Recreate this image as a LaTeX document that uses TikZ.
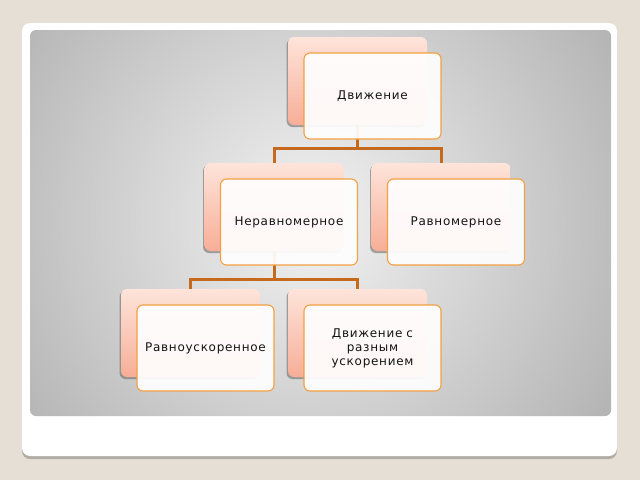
\documentclass[tikz,border=0pt]{standalone}
\usepackage{fontspec}
\usepackage{tikz}
\usetikzlibrary{positioning, shadows}

\newfontfamily\labfont[LetterSpace=6]{DejaVu Sans}

\definecolor{bgbeige}{HTML}{E5DFD5}
\definecolor{slideshadow}{HTML}{B1ADA5}
\definecolor{panelin}{HTML}{F2F2F2}
\definecolor{panelout}{HTML}{A0A0A0}
\definecolor{salmtop}{HTML}{FEE4DA}
\definecolor{salmbot}{HTML}{F7AE97}
\definecolor{boxedge}{HTML}{F2A042}
\definecolor{linkcol}{HTML}{C5691C}
\definecolor{labcol}{HTML}{141414}

\tikzset{
  backbox/.style={rounded corners=6pt, minimum width=139pt, minimum height=88pt,
    inner sep=0pt, top color=salmtop, bottom color=salmbot,
    drop shadow={shadow xshift=-1.5pt, shadow yshift=-2pt, fill=black!60, opacity=.55}},
  frontbox/.style={rounded corners=6pt, draw=boxedge, line width=1.1pt,
    fill=white!97!salmtop, fill opacity=.93, text opacity=1,
    minimum width=137pt, minimum height=86pt, inner sep=0pt,
    font=\labfont\fontsize{12}{14}\selectfont, text=labcol,
    text width=128pt, align=center},
  link/.style={draw=linkcol, line width=3pt}
}

\begin{document}
\begin{tikzpicture}[x=1pt, y=-1pt, node distance=126pt and 83.5pt]
    \useasboundingbox (0,0) rectangle (640,480);
    \fill[bgbeige] (0,0) rectangle (640,480);

    % slide and panel
    \fill[slideshadow, rounded corners=8pt] (22,26) rectangle (617,459);
    \fill[white, rounded corners=8pt] (22,23) rectangle (617,456);
    \begin{scope}
      \clip[rounded corners=6pt] (30,30) rectangle (611,416);
      \shade[inner color=panelin, outer color=panelout] (310,220) circle (470);
    \end{scope}

    % back shapes
    \node[backbox] (dv) at (357.5,81) {};
    \node[backbox, on grid, below left=of dv] (ner) {};
    \node[backbox, on grid, below right=of dv] (rav) {};
    \node[backbox, on grid, below left=of ner] (ravu) {};
    \node[backbox, on grid, below right=of ner] (rzn) {};

    % connectors
    \draw[link] (dv.south) -- ++(0,23) -| (ner.north);
    \draw[link] (dv.south) -- ++(0,23) -| (rav.north);
    \draw[link] (ner.south) -- ++(0,28.5) -| (ravu.north);
    \draw[link] (ner.south) -- ++(0,28.5) -| (rzn.north);

    % front boxes with labels
    \node[frontbox, on grid, below right=15pt and 15pt of dv] (dv-f) {Движение};
    \node[frontbox, on grid, below right=15pt and 15pt of ner] (ner-f) {Неравномерное};
    \node[frontbox, on grid, below right=15pt and 15pt of rav] (rav-f) {Равномерное};
    \node[frontbox, on grid, below right=15pt and 15pt of ravu] (ravu-f) {Равноускоренное};
    \node[frontbox, on grid, below right=15pt and 15pt of rzn] (rzn-f) {Движение с\\ разным\\ ускорением};
\end{tikzpicture}
\end{document}
